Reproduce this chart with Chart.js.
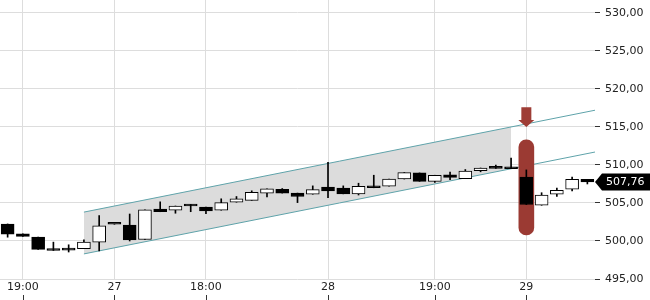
<!DOCTYPE html>
<html>
<head>
<meta charset="utf-8">
<script src="https://cdn.jsdelivr.net/npm/chart.js@4"></script>
<style>
  html, body { margin: 0; padding: 0; background: #fff; }
  canvas { display: block; }
</style>
</head>
<body>
<canvas id="chart" width="650" height="300"></canvas>
<script>
// candle values, one per bar
const opens  = [502.24, 500.95, 500.5, 499.0, 499.0, 499.0, 499.85, 502.2, 502.1, 500.2,
                504.2, 504.05, 504.8, 504.45, 504.05, 505.1, 505.35, 506.3, 506.8, 506.3,
                506.15, 507.1, 506.95, 506.2, 507.25, 507.2, 508.15, 508.95, 507.85, 508.7,
                508.2, 509.25, 509.8, 509.75, 508.4, 504.7, 506.15, 506.8, 508.1];
const highs  = [502.24, 500.95, 500.5, 499.85, 499.5, 500.15, 503.35, 502.2, 503.55, 504.1,
                505.15, 504.6, 504.8, 504.45, 505.55, 505.85, 506.6, 506.85, 506.9, 506.3,
                507.25, 510.35, 507.25, 507.6, 508.65, 508.15, 509.0, 508.95, 508.65, 509.05,
                509.4, 509.6, 510.0, 510.9, 509.35, 506.35, 506.95, 508.4, 508.1];
const lows   = [500.5, 500.6, 498.9, 498.75, 498.55, 499.0, 498.7, 502.2, 500.0, 500.2,
                503.85, 503.65, 503.85, 503.6, 504.05, 505.1, 505.35, 505.8, 506.3, 505.05,
                506.15, 505.7, 506.2, 506.05, 507.0, 507.2, 508.15, 507.85, 507.7, 508.05,
                508.2, 509.1, 509.55, 509.5, 504.8, 504.7, 505.85, 506.6, 507.5];
const closes = [500.9, 500.6, 498.9, 498.75, 498.8, 499.85, 502.0, 502.2, 500.15, 504.1,
                503.85, 504.6, 504.6, 503.95, 505.05, 505.55, 506.4, 506.85, 506.3, 505.85,
                506.75, 506.6, 506.2, 507.2, 507.0, 508.15, 509.0, 507.85, 508.65, 508.35,
                509.2, 509.6, 509.55, 509.5, 504.8, 506.05, 506.65, 508.1, 507.76];

// x axis labels at bar positions
const tickIndex  = [1, 7, 13, 21, 28, 34];
const tickLabels = ['19:00', '27', '18:00', '28', '19:00', '29'];
// price axis
const yTicks = [495, 500, 505, 510, 515, 520, 525, 530];

// trend channel
const channelX     = [5, 38.5];
const channelUpper = [503.8, 517.2];
const channelLower = [498.3, 511.7];
const shadeX       = [5, 33];
const shadeUpper   = [503.8, 515.0];
const shadeLower   = [498.3, 509.5];

// signal marker
const signalIndex = 34;
const signalRange = [500.8, 513.3];
const arrowRange  = [515.0, 517.6];
const lastPrice   = 507.76;

const fmt = v => v.toFixed(2).replace('.', ',');
const idx = opens.map((_, i) => i);

const bodies = idx.map(i => ({ x: i, y: [opens[i], closes[i]] }));
const wicks  = idx.map(i => ({ x: i, y: [lows[i], highs[i]] }));
const bodyColors = idx.map(i => closes[i] > opens[i] ? '#ffffff' : '#000000');

const pts = (xs, ys) => xs.map((x, i) => ({ x: x, y: ys[i] }));

const extras = {
  id: 'extras',
  afterDatasetsDraw(chart) {
    const ctx = chart.ctx;
    const xs = chart.scales.x, ys = chart.scales.y;
    // arrow above signal bar
    const cx = xs.getPixelForValue(signalIndex);
    const tip = ys.getPixelForValue(arrowRange[0]);
    const top = ys.getPixelForValue(arrowRange[1]);
    ctx.save();
    ctx.fillStyle = '#9e3d36';
    ctx.beginPath();
    ctx.moveTo(cx - 5, top);
    ctx.lineTo(cx + 5, top);
    ctx.lineTo(cx + 5, tip - 7);
    ctx.lineTo(cx + 8, tip - 7);
    ctx.lineTo(cx, tip);
    ctx.lineTo(cx - 8, tip - 7);
    ctx.lineTo(cx - 5, tip - 7);
    ctx.closePath();
    ctx.fill();
    ctx.restore();
  },
  afterDraw(chart) {
    const ctx = chart.ctx;
    const xs = chart.scales.x, ys = chart.scales.y;
    const area = chart.chartArea;
    ctx.save();
    // small ticks under the time labels
    ctx.strokeStyle = '#333';
    ctx.lineWidth = 1;
    tickIndex.forEach(v => {
      const x = Math.round(xs.getPixelForValue(v)) + 0.5;
      ctx.beginPath();
      ctx.moveTo(x, 295);
      ctx.lineTo(x, 300);
      ctx.stroke();
    });
    // last price tag
    const py = ys.getPixelForValue(lastPrice);
    ctx.fillStyle = '#000';
    ctx.beginPath();
    ctx.moveTo(area.right, py);
    ctx.lineTo(area.right + 7, py - 8.5);
    ctx.lineTo(650, py - 8.5);
    ctx.lineTo(650, py + 8.5);
    ctx.lineTo(area.right + 7, py + 8.5);
    ctx.closePath();
    ctx.fill();
    ctx.fillStyle = '#fff';
    ctx.font = '11px "DejaVu Sans"';
    ctx.textBaseline = 'middle';
    ctx.fillText(fmt(lastPrice), 606, py + 0.5);
    ctx.restore();
  }
};

new Chart(document.getElementById('chart'), {
  type: 'bar',
  data: {
    datasets: [
      {
        type: 'bar', data: bodies, order: 1, grouped: false,
        backgroundColor: bodyColors, borderColor: '#000', borderWidth: 1,
        borderSkipped: false, barThickness: 13, minBarLength: 2
      },
      {
        type: 'bar', data: wicks, order: 2, grouped: false,
        backgroundColor: '#000', borderWidth: 0, barThickness: 1
      },
      {
        type: 'bar', data: [{ x: signalIndex, y: signalRange }], order: 3, grouped: false,
        backgroundColor: '#9b3a33', borderWidth: 0, borderSkipped: false,
        barThickness: 15, borderRadius: 8
      },
      {
        type: 'line', data: pts(channelX, channelUpper), order: 4,
        borderColor: '#5fa3aa', borderWidth: 1, pointRadius: 0, fill: false
      },
      {
        type: 'line', data: pts(channelX, channelLower), order: 4,
        borderColor: '#5fa3aa', borderWidth: 1, pointRadius: 0, fill: false
      },
      {
        type: 'line', data: pts(shadeX, shadeUpper), order: 5,
        borderWidth: 0, pointRadius: 0, fill: '+1', backgroundColor: '#dcdcdc'
      },
      {
        type: 'line', data: pts(shadeX, shadeLower), order: 5,
        borderWidth: 0, pointRadius: 0, fill: false
      }
    ]
  },
  options: {
    responsive: false,
    animation: false,
    layout: { padding: 0 },
    plugins: { legend: { display: false }, tooltip: { enabled: false } },
    scales: {
      x: {
        type: 'linear', min: -0.5, max: 38.5, offset: false,
        afterBuildTicks: s => { s.ticks = tickIndex.map(v => ({ value: v })); },
        afterFit: s => { s.height = 21; s.paddingLeft = 0; s.paddingRight = 0; },
        grid: { color: '#dddddd', drawTicks: false, offset: false },
        border: { display: false },
        ticks: {
          autoSkip: false, maxRotation: 0, padding: 2,
          color: '#222', font: { family: 'DejaVu Sans', size: 11 },
          callback: v => tickLabels[tickIndex.indexOf(v)]
        }
      },
      y: {
        position: 'right', min: 495, max: 531.7,
        afterBuildTicks: s => { s.ticks = yTicks.map(v => ({ value: v })); },
        afterFit: s => { s.width = 55; s.paddingTop = 0; s.paddingBottom = 0; },
        grid: { color: '#dddddd', tickColor: '#333', tickLength: 5 },
        border: { display: false },
        ticks: {
          padding: 5,
          color: '#222', font: { family: 'DejaVu Sans', size: 11 },
          callback: v => fmt(v)
        }
      }
    }
  },
  plugins: [extras]
});
</script>
</body>
</html>
